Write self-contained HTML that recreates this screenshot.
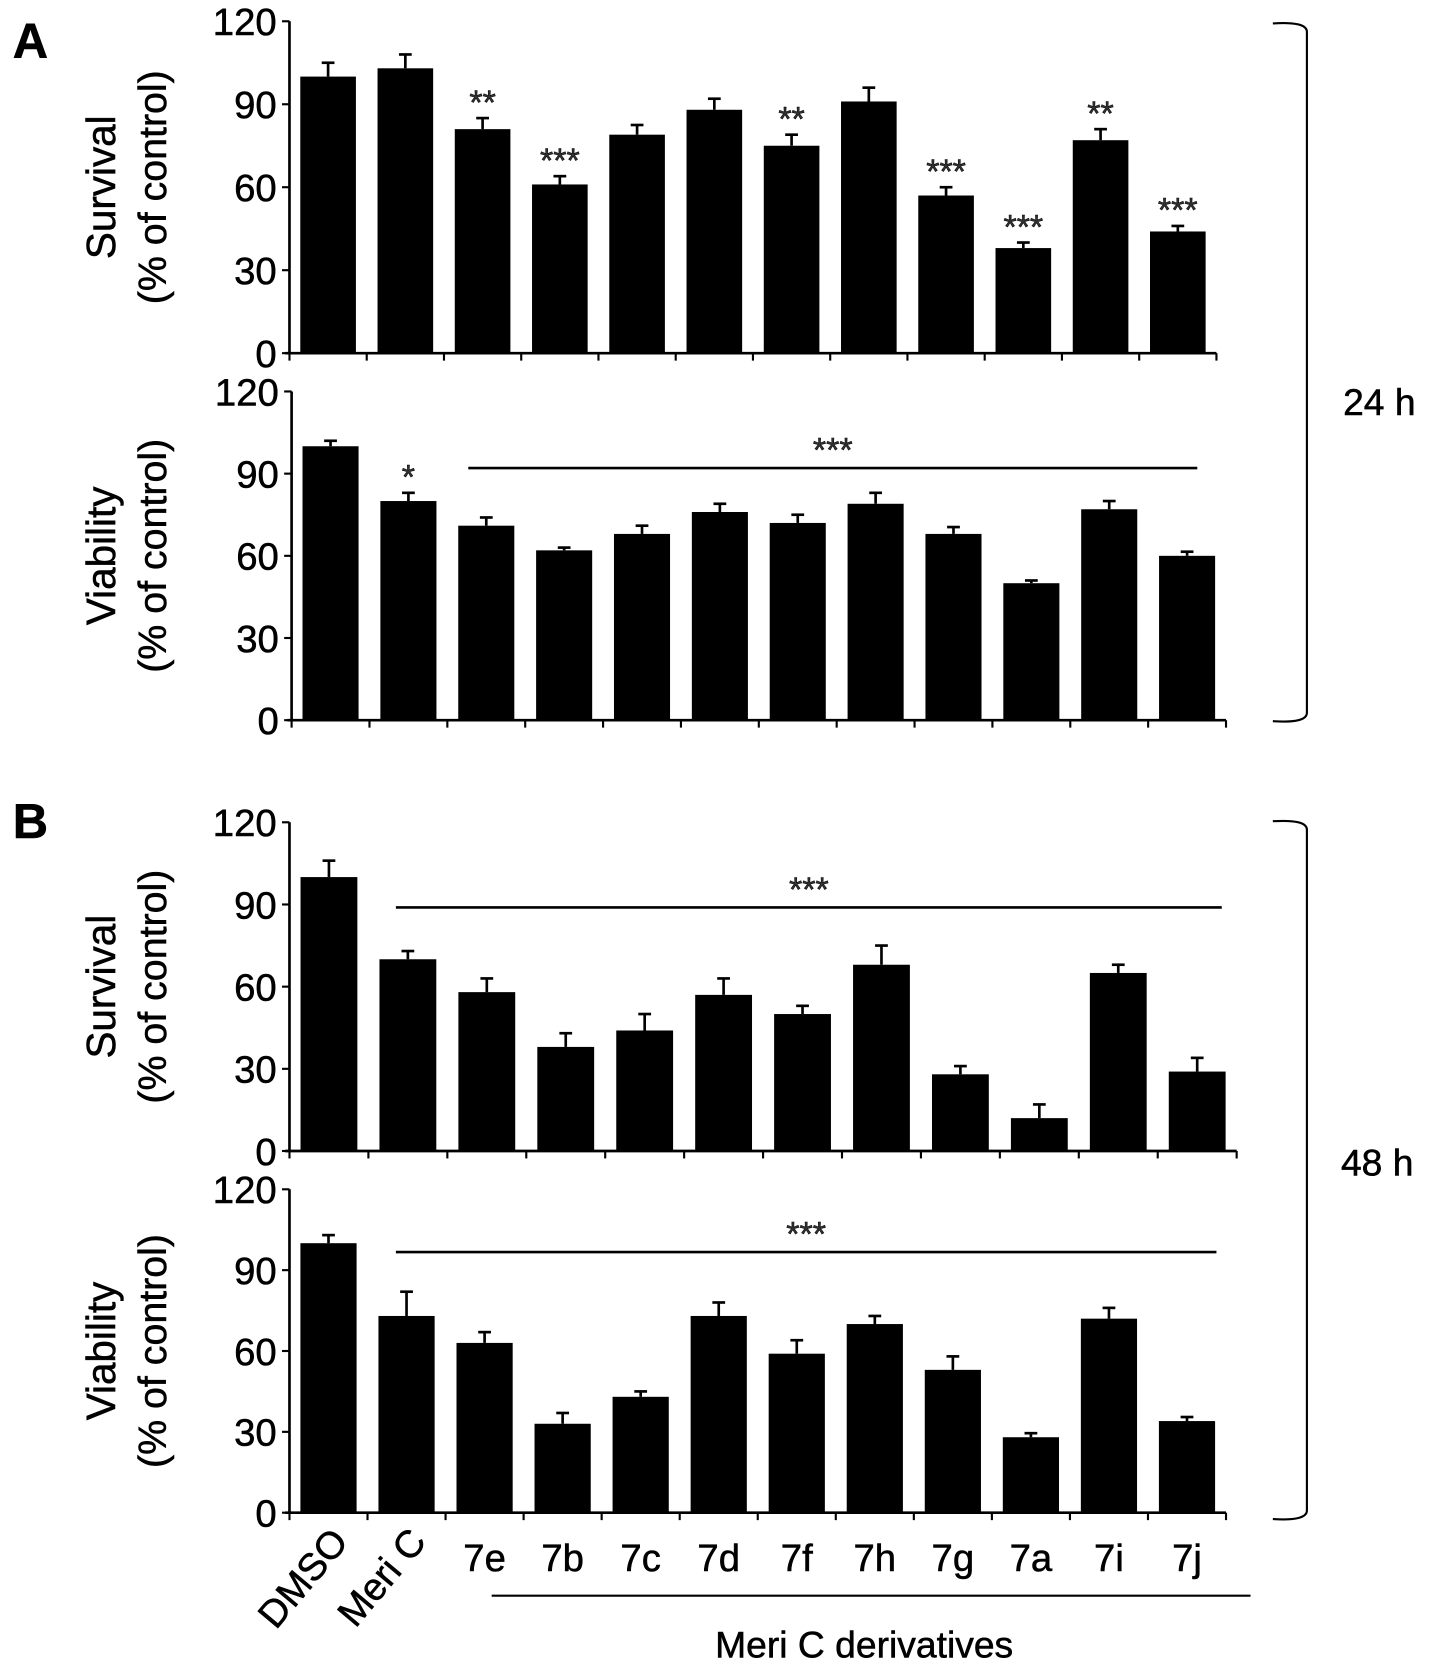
<!DOCTYPE html>
<html><head><meta charset="utf-8"><style>
html,body{margin:0;padding:0;background:#fff}
svg{display:block;font-family:"Liberation Sans",Arial,sans-serif}
svg text{stroke:#000;stroke-width:0.5px}
</style></head><body>
<svg id="fig" width="1441" height="1668" viewBox="0 0 1354 1568" preserveAspectRatio="none" xmlns="http://www.w3.org/2000/svg">
<text x="12" y="54" font-size="46" font-weight="bold">A</text>
<text x="12" y="788" font-size="46" font-weight="bold">B</text>
<path d="M1196,22 Q1228,20 1228,30 L1228,670 Q1228,680 1196,678" fill="none" stroke="#000" stroke-width="2"/>
<text x="1262" y="390" font-size="35">24 h</text>
<path d="M1196,772 Q1228,770 1228,780 L1228,1420 Q1228,1430 1196,1428" fill="none" stroke="#000" stroke-width="2"/>
<text x="1260" y="1105" font-size="35">48 h</text>
<line x1="462" y1="1500" x2="1175" y2="1500" stroke="#000" stroke-width="2"/>
<text x="812" y="1558" font-size="35" text-anchor="middle">Meri C derivatives</text>
</svg>
<script>
const categories = ["DMSO","Meri C","7e","7b","7c","7d","7f","7h","7g","7a","7i","7j"];
const yTicks = [0,30,60,90,120];
const survival24 = [100,103,81,61,79,88,75,91,57,38,77,44];
const survival24Err = [5,5,4,3,3.5,4,4,5,3,2,4,2];
const survival24Stars = ["","","**","***","","","**","","***","***","**","***"];
const viability24 = [100,80,71,62,68,76,72,79,68,50,77,60];
const viability24Err = [2,3,3,1,3,3,3,4,2.5,1,3,1.5];
const viability24Stars = ["","*","","","","","","","","","",""];
const survival48 = [100,70,58,38,44,57,50,68,28,12,65,29];
const survival48Err = [6,3,5,5,6,6,3,7,3,5,3,5];
const viability48 = [100,73,63,33,43,73,59,70,53,28,72,34];
const viability48Err = [3,9,4,4,2,5,5,3,5,1.5,4,1.5];

const svg = document.getElementById('fig');
const NS = 'http://www.w3.org/2000/svg';
function mk(tag, attrs){const e=document.createElementNS(NS,tag);for(const k in attrs)e.setAttribute(k,attrs[k]);svg.appendChild(e);return e;}

function panel(p){
  const y = v => p.y0 - (v/120)*(p.y0-p.y120);
  const band = (p.x1-p.x0)/categories.length;
  const x = i => p.x0 + band*(i+0.5);
  let e;
  e = mk('line',{x1:p.x0,y1:p.y120,x2:p.x0,y2:p.y0,stroke:'#000','stroke-width':2.5});
  
  
  e = mk('line',{x1:p.x0-4,y1:p.y0,x2:p.x1,y2:p.y0,stroke:'#000','stroke-width':2.5});
  
  
  yTicks.forEach(t=>{
    e = mk('line',{x1:p.x0-7,y1:y(t),x2:p.x0,y2:y(t),stroke:'#000','stroke-width':2});
    
    
    e = mk('text',{x:p.x0-12,y:y(t)+13,'font-size':36,'text-anchor':'end'});
    e.textContent = t;
    
    
  });
  for(let i=0;i<=categories.length;i++){
    e = mk('line',{x1:p.x0+band*i,y1:p.y0,x2:p.x0+band*i,y2:p.y0+7,stroke:'#000','stroke-width':2});
    
    
  }
  const bw = band*0.72;
  p.vals.forEach((v,i)=>{
    const top = y(v+p.err[i]);
    e = mk('line',{x1:x(i),y1:top,x2:x(i),y2:y(v),stroke:'#000','stroke-width':2.5});
    
    
    e = mk('line',{x1:x(i)-6,y1:top,x2:x(i)+6,y2:top,stroke:'#000','stroke-width':2.5});
    
    
    e = mk('rect',{x:x(i)-bw/2,y:y(v),width:bw,height:p.y0-y(v),fill:'#000'});
    
    
    if(p.stars && p.stars[i]){
      e = mk('text',{x:x(i),y:top-4,'font-size':32,'text-anchor':'middle',fill:'#333'});
      e.textContent = p.stars[i];
      
      
    }
  });
  if(p.line){
    e = mk('line',{x1:p.line[0],y1:p.line[2],x2:p.line[1],y2:p.line[2],stroke:'#000','stroke-width':2.5});
    
    
    e = mk('text',{x:(p.line[0]+p.line[1])/2,y:p.line[2]-6,'font-size':32,'text-anchor':'middle',fill:'#333'});
    e.textContent = '***';
    
    
  }
  const cy = (p.y0+p.y120)/2;
  e = mk('text',{x:0,y:0,'font-size':38,'text-anchor':'middle',transform:`translate(108,${cy}) rotate(-90)`});
  e.textContent = p.title;
  
  
  e = mk('text',{x:0,y:0,'font-size':37,'text-anchor':'middle',transform:`translate(156,${cy}) rotate(-90)`});
  e.textContent = '(% of control)';
  
  
  return x;
}
panel({id:'a-survival',x0:272,x1:1143,y120:20,y0:332,vals:survival24,err:survival24Err,stars:survival24Stars,title:'Survival'});
panel({id:'a-viability',x0:274,x1:1152,y120:368,y0:677,vals:viability24,err:viability24Err,stars:viability24Stars,line:[440,1125,440],title:'Viability'});
panel({id:'b-survival',x0:272,x1:1162,y120:773,y0:1082,vals:survival48,err:survival48Err,line:[372,1148,853],title:'Survival'});
const xb = panel({id:'b-viability',x0:272,x1:1152,y120:1118,y0:1422,vals:viability48,err:viability48Err,line:[372,1143,1177],title:'Viability'});
categories.forEach((c,i)=>{
  let e;
  if(i<2){
    e = mk('text',{x:0,y:0,'font-size':36,'text-anchor':'end',transform:`translate(${xb(i)+20},${1450}) rotate(-50)`});
  } else {
    e = mk('text',{x:xb(i),y:1477,'font-size':36,'text-anchor':'middle'});
  }
  e.textContent = c;
  
  
});
</script>
</body></html>
